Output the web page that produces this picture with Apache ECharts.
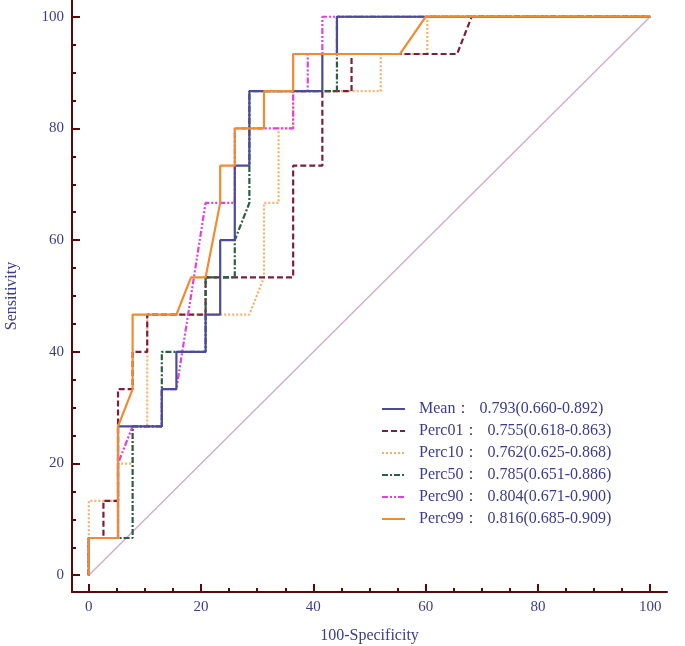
<!DOCTYPE html>
<html><head><meta charset="utf-8">
<script src="https://cdn.jsdelivr.net/npm/echarts@6/dist/echarts.min.js"></script>
<style>html,body{margin:0;padding:0;background:#fff}#c{width:685px;height:646px}</style>
</head><body><div id="c"></div>
<script>
var seriesNames = ['Mean','Perc01','Perc10','Perc50','Perc90','Perc99'];
var aucText = ['  0.793(0.660-0.892)','  0.755(0.618-0.863)','  0.762(0.625-0.868)','  0.785(0.651-0.886)','  0.804(0.671-0.900)','  0.816(0.685-0.909)'];
var meanPts = [[0,0],[0,6.67],[5.2,6.67],[5.2,26.67],[13,26.67],[13,33.33],[15.6,33.33],[15.6,40],[20.8,40],[20.8,46.67],[23.4,46.67],[23.4,60],[26,60],[26,73.33],[28.6,73.33],[28.6,86.67],[41.6,86.67],[41.6,93.33],[44.2,93.33],[44.2,100],[100,100]];
var perc01Pts = [[0,0],[0,6.67],[2.6,6.67],[2.6,13.33],[5.2,13.33],[5.2,33.33],[7.8,33.33],[7.8,40],[10.4,40],[10.4,46.67],[20.8,46.67],[20.8,53.33],[36.4,53.33],[36.4,73.33],[41.6,73.33],[41.6,86.67],[46.8,86.67],[46.8,93.33],[65.6,93.33],[68.2,100],[100,100]];
var perc10Pts = [[0,0],[0,13.33],[5.2,13.33],[5.2,20],[7.8,20],[7.8,26.67],[10.4,26.67],[10.4,46.67],[28.6,46.67],[31.2,53.33],[31.2,66.67],[33.8,66.67],[33.8,80],[36.4,80],[36.4,86.67],[52,86.67],[52,93.33],[60.3,93.33],[60.3,100],[100,100]];
var perc50Pts = [[0,0],[0,6.67],[7.8,6.67],[7.8,26.67],[13,26.67],[13,40],[20.8,40],[20.8,53.33],[26,53.33],[26,60],[28.6,66.67],[28.6,86.67],[44.2,86.67],[44.2,100],[100,100]];
var perc90Pts = [[0,0],[0,6.67],[5.2,6.67],[5.2,20],[7.8,26.67],[13,26.67],[13,33.33],[15.6,33.33],[20.8,66.67],[26,66.67],[26,80],[36.4,80],[36.4,86.67],[39,86.67],[39,93.33],[41.6,93.33],[41.6,100],[100,100]];
var perc99Pts = [[0,0],[0,6.67],[5.2,6.67],[5.2,26.67],[7.8,33.33],[7.8,46.67],[15.6,46.67],[18.2,53.33],[20.8,53.33],[23.4,66.67],[23.4,73.33],[26,73.33],[26,80],[31.2,80],[31.2,86.67],[36.4,86.67],[36.4,93.33],[55.4,93.33],[60,100],[100,100]];
var diagPts = [[0,0],[100,100]];
var majorTicks = [0,20,40,60,80,100];
var minorTicks = [5,10,15,25,30,35,45,50,55,65,70,75,85,90,95];

var axisCol = '#5a0a0a', labCol = '#3c3c8c', font = 'Liberation Serif';
function mkAxis(isMajor, name, isX) {
  var a = {
    type: 'value', min: -3, max: 103,
    position: isX ? 'bottom' : 'left',
    splitLine: {show: false},
    axisLine: {show: isMajor, onZero: false, lineStyle: {color: axisCol, width: 2}},
    axisTick: {show: true, inside: true, length: isMajor ? 8 : 4, customValues: isMajor ? majorTicks : minorTicks,
               lineStyle: {color: axisCol, width: 2}},
    axisLabel: {show: isMajor, customValues: majorTicks, color: labCol, fontFamily: font, fontSize: 15, margin: 8}
  };
  if (isMajor) {
    a.name = name; a.nameLocation = 'middle';
    a.nameTextStyle = {color: labCol, fontFamily: font, fontSize: 16};
    a.nameGap = isX ? 36 : 52;
  }
  return a;
}
var styles = [
  {color:'#4b4b9b', type:'solid', z:6},
  {color:'#7b1f3f', type:[6,3], z:3},
  {color:'#f7b26a', type:[2,2], z:2},
  {color:'#2b5f3f', type:[6,2,2,2], z:4},
  {color:'#e33fe3', type:[6,2,2,2,2,2], z:5},
  {color:'#f28a30', type:'solid', z:7}
];
var allPts = [meanPts, perc01Pts, perc10Pts, perc50Pts, perc90Pts, perc99Pts];
var series = [{type:'line', data: diagPts, symbol:'none', silent:true, lineStyle:{color:'#cdb0cd', width:1.5}, z:1}];
seriesNames.forEach(function(n,i){
  series.push({name:n, type:'line', data: allPts[i], symbol:'none', showSymbol:false, z: styles[i].z,
    itemStyle:{color: styles[i].color},
    lineStyle:{color: styles[i].color, width: 2.2, type: styles[i].type}});
});
var chart = echarts.init(document.getElementById('c'), null, {renderer:'canvas'});
chart.setOption({
  animation: false,
  backgroundColor: '#fff',
  grid: {left: 72, right: 18, top: 0, bottom: 54, containLabel: false, outerBoundsMode: 'none'},
  xAxis: [mkAxis(true, '100-Specificity', true), mkAxis(false, '', true)],
  yAxis: [mkAxis(true, 'Sensitivity', false), mkAxis(false, '', false)],
  legend: {
    data: seriesNames, orient: 'vertical', left: 376, top: 396,
    itemWidth: 23, itemHeight: 14, itemGap: 6,
    itemStyle: {opacity: 0},
    textStyle: {color: labCol, fontFamily: font, fontSize: 16, lineHeight: 14, padding: [0,0,0,9]},
    formatter: function(n){ return n + '：' + aucText[seriesNames.indexOf(n)]; }
  },
  series: series
});
</script></body></html>
